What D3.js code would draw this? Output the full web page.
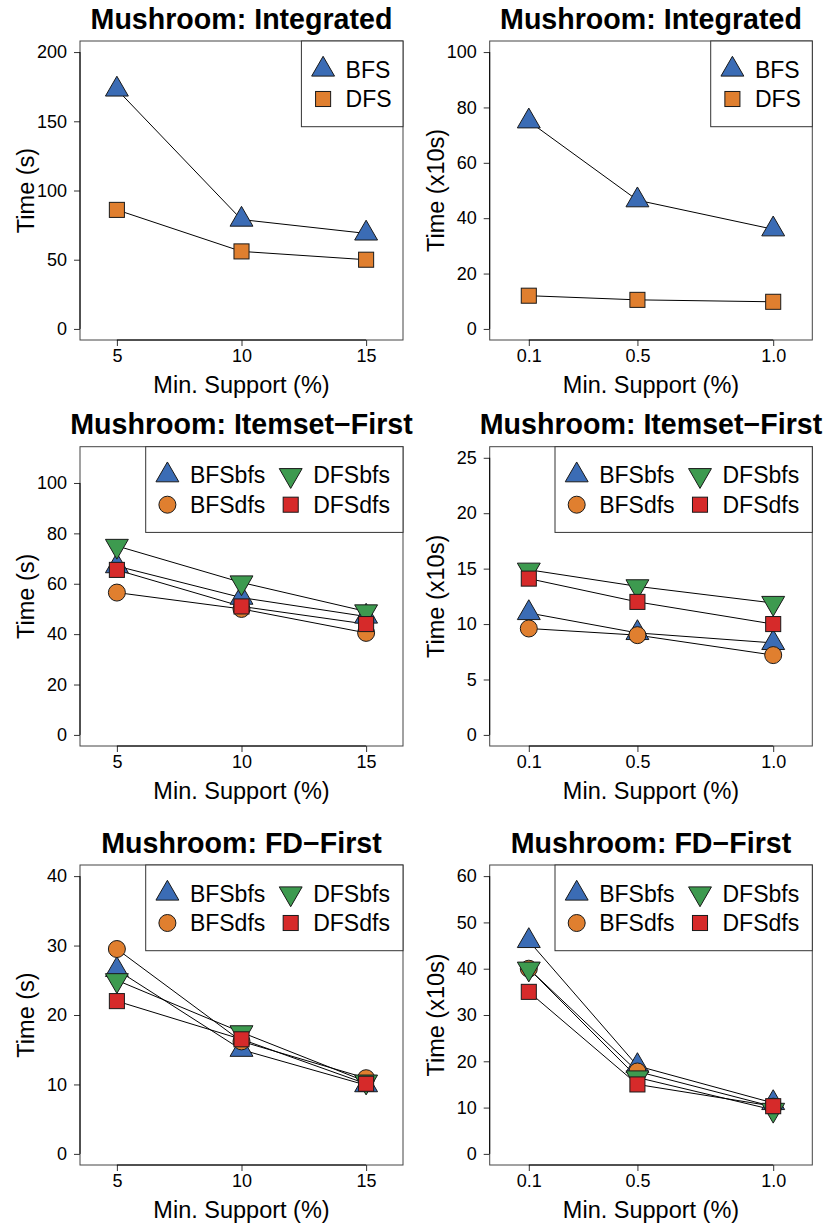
<!DOCTYPE html>
<html>
<head>
<meta charset="utf-8">
<script src="https://cdn.jsdelivr.net/npm/d3@7"></script>
<style>
  body { margin: 0; background: #fff; }
  text { font-family: "Liberation Sans", Arial, Helvetica, sans-serif; fill: #000; }
</style>
</head>
<body>
<svg id="chart" width="827" height="1229"></svg>
<script>
// x values (min. support)
const supportPct = [5, 10, 15];
const supportPctLabels = ["5", "10", "15"];
const supportSmall = [0.1, 0.5, 1.0];
const supportSmallLabels = ["0.1", "0.5", "1.0"];

// Integrated, seconds / x10 seconds
const intSecBFS = [173, 79, 69];
const intSecDFS = [86, 56, 50];
const intTenBFS = [75, 46.5, 36];
const intTenDFS = [12, 10.5, 9.8];

// Itemset-First
const itemSecBFSbfs = [67, 54.5, 47];
const itemSecBFSdfs = [56.5, 50, 40.5];
const itemSecDFSbfs = [75, 60.5, 49];
const itemSecDFSdfs = [65.5, 51, 44];
const itemTenBFSbfs = [11, 9.2, 8.3];
const itemTenBFSdfs = [9.6, 9.0, 7.2];
const itemTenDFSbfs = [14.9, 13.4, 11.9];
const itemTenDFSdfs = [14.1, 12.0, 10.0];

// FD-First
const fdSecBFSbfs = [26.5, 15, 9.9];
const fdSecBFSdfs = [29.5, 16.2, 10.9];
const fdSecDFSbfs = [25, 17.5, 10.4];
const fdSecDFSdfs = [22, 16.5, 10.1];
const fdTenBFSbfs = [46, 19, 11];
const fdTenBFSdfs = [40, 17.8, 10.2];
const fdTenDFSbfs = [40, 16.5, 9.5];
const fdTenDFSdfs = [35, 15, 10.3];

// marker style per series name
const styles = {
  BFS:    {shape: "up",     fill: "#3b6cb5"},
  DFS:    {shape: "square", fill: "#e07f2f"},
  BFSbfs: {shape: "up",     fill: "#3b6cb5"},
  BFSdfs: {shape: "circle", fill: "#e07f2f"},
  DFSbfs: {shape: "down",   fill: "#3d9a4f"},
  DFSdfs: {shape: "square", fill: "#d62a2a"}
};

const panels = [
  {col: 0, row: 0, title: "Mushroom: Integrated", ylab: "Time (s)",
   xs: supportPct, xlabels: supportPctLabels, xlim: [4, 16], ylim: [0, 200], yticks: [0, 50, 100, 150, 200],
   series: [["BFS", intSecBFS], ["DFS", intSecDFS]]},
  {col: 1, row: 0, title: "Mushroom: Integrated", ylab: "Time (x10s)",
   xs: supportSmall, xlabels: supportSmallLabels, xlim: [0, 1.1], ylim: [0, 100], yticks: [0, 20, 40, 60, 80, 100],
   series: [["BFS", intTenBFS], ["DFS", intTenDFS]]},
  {col: 0, row: 1, title: "Mushroom: Itemset\u2212First", ylab: "Time (s)",
   xs: supportPct, xlabels: supportPctLabels, xlim: [4, 16], ylim: [0, 110], yticks: [0, 20, 40, 60, 80, 100],
   series: [["BFSbfs", itemSecBFSbfs], ["BFSdfs", itemSecBFSdfs], ["DFSbfs", itemSecDFSbfs], ["DFSdfs", itemSecDFSdfs]]},
  {col: 1, row: 1, title: "Mushroom: Itemset\u2212First", ylab: "Time (x10s)",
   xs: supportSmall, xlabels: supportSmallLabels, xlim: [0, 1.1], ylim: [0, 25], yticks: [0, 5, 10, 15, 20, 25],
   series: [["BFSbfs", itemTenBFSbfs], ["BFSdfs", itemTenBFSdfs], ["DFSbfs", itemTenDFSbfs], ["DFSdfs", itemTenDFSdfs]]},
  {col: 0, row: 2, title: "Mushroom: FD\u2212First", ylab: "Time (s)",
   xs: supportPct, xlabels: supportPctLabels, xlim: [4, 16], ylim: [0, 40], yticks: [0, 10, 20, 30, 40],
   series: [["BFSbfs", fdSecBFSbfs], ["BFSdfs", fdSecBFSdfs], ["DFSbfs", fdSecDFSbfs], ["DFSdfs", fdSecDFSdfs]]},
  {col: 1, row: 2, title: "Mushroom: FD\u2212First", ylab: "Time (x10s)",
   xs: supportSmall, xlabels: supportSmallLabels, xlim: [0, 1.1], ylim: [0, 60], yticks: [0, 10, 20, 30, 40, 50, 60],
   series: [["BFSbfs", fdTenBFSbfs], ["BFSdfs", fdTenBFSdfs], ["DFSbfs", fdTenDFSbfs], ["DFSdfs", fdTenDFSdfs]]}
];

// plot region edges
const colLeft = [80, 489.7], colRight = [403, 812.3];
const rowTop = [41, 446.7, 865], rowBottom = [340, 746, 1165];

const R = 8.5;  // marker radius
const tickFont = 18, labFont = 23.5, titleFont = 28.6, legFont = 23;

const svg = d3.select("#chart");

function marker(sel, name) {
  const st = styles[name];
  let m;
  if (st.shape === "circle") {
    m = sel.append("circle").attr("r", R);
  } else if (st.shape === "square") {
    const s = 1.772 * R;
    m = sel.append("rect").attr("x", -s / 2).attr("y", -s / 2).attr("width", s).attr("height", s);
  } else {
    const t = st.shape === "up" ? -1 : 1;
    const pts = [[0, t * 1.555 * R], [1.3468 * R, -t * 0.7776 * R], [-1.3468 * R, -t * 0.7776 * R]];
    m = sel.append("path").attr("d", "M" + pts.join("L") + "Z");
  }
  m.attr("fill", st.fill).attr("stroke", "#1a1a1a").attr("stroke-width", 1);
}

function expand(lim) {
  const d = (lim[1] - lim[0]) * 0.04;
  return [lim[0] - d, lim[1] + d];
}

panels.forEach(p => {
  const L = colLeft[p.col], Rt = colRight[p.col];
  const T = rowTop[p.row], B = rowBottom[p.row];

  const x = d3.scaleLinear().domain(expand(p.xlim)).range([L, Rt]);
  const y = d3.scaleLinear().domain(expand(p.ylim)).range([B, T]);

  const g = svg.append("g");

  // box
  g.append("rect")
    .attr("x", L).attr("y", T).attr("width", Rt - L).attr("height", B - T)
    .attr("fill", "none").attr("stroke", "#444").attr("stroke-width", 1);

  // y axis
  const ya = g.append("g").attr("transform", "translate(" + L + ",0)")
    .call(d3.axisLeft(y).tickValues(p.yticks).tickSize(6).tickPadding(7));
  ya.select(".domain").remove();
  ya.append("line").attr("x1", 0).attr("x2", 0)
    .attr("y1", y(p.yticks[0])).attr("y2", y(p.yticks[p.yticks.length - 1]))
    .attr("stroke", "#000");

  // x axis
  const xa = g.append("g").attr("transform", "translate(0," + B + ")")
    .call(d3.axisBottom(x).tickValues(p.xs).tickFormat((d, i) => p.xlabels[i]).tickSize(6).tickPadding(3));
  xa.select(".domain").remove();
  xa.append("line").attr("y1", 0).attr("y2", 0)
    .attr("x1", x(p.xs[0])).attr("x2", x(p.xs[p.xs.length - 1]))
    .attr("stroke", "#000");

  [ya, xa].forEach(a => {
    a.attr("font-size", null).attr("font-family", null);
    a.selectAll("text").style("font-size", tickFont + "px");
    a.selectAll(".tick line").attr("stroke", "#333");
  });

  // titles
  g.append("text")
    .attr("x", (L + Rt) / 2).attr("y", T - 12.5)
    .attr("text-anchor", "middle")
    .style("font-size", titleFont + "px").style("font-weight", "bold")
    .text(p.title);

  g.append("text")
    .attr("x", (L + Rt) / 2).attr("y", B + 53)
    .attr("text-anchor", "middle")
    .style("font-size", labFont + "px")
    .text("Min. Support (%)");

  g.append("text")
    .attr("transform", "translate(" + (L - 46) + "," + ((T + B) / 2) + ") rotate(-90)")
    .attr("text-anchor", "middle")
    .style("font-size", labFont + "px")
    .text(p.ylab);

  // lines
  const line = d3.line().x((d, i) => x(p.xs[i])).y(d => y(d));
  p.series.forEach(([name, vals]) => {
    g.append("path").attr("d", line(vals))
      .attr("fill", "none").attr("stroke", "#000").attr("stroke-width", 1);
  });

  // markers
  p.series.forEach(([name, vals]) => {
    vals.forEach((v, i) => {
      const mg = g.append("g").attr("transform", "translate(" + x(p.xs[i]) + "," + y(v) + ")");
      marker(mg, name);
    });
  });

  // legend
  const four = p.series.length === 4;
  const lw = four ? 257.3 : 101.6;
  const lg = g.append("g").attr("transform", "translate(" + (Rt - lw) + "," + T + ")");
  lg.append("rect").attr("width", lw).attr("height", 85.7)
    .attr("fill", "#fff").attr("stroke", "#333").attr("stroke-width", 1);
  p.series.forEach(([name], i) => {
    const c = four ? Math.floor(i / 2) : 0;
    const r = four ? i % 2 : i;
    const sx = 21.7 + c * 123.3, ty = 28.5 + r * 29.5;
    const eg = lg.append("g").attr("transform", "translate(" + sx + "," + ty + ")");
    marker(eg, name);
    lg.append("text")
      .attr("x", sx + 22.5).attr("y", ty + legFont * 0.36)
      .style("font-size", legFont + "px")
      .text(name);
  });
});
</script>
</body>
</html>
